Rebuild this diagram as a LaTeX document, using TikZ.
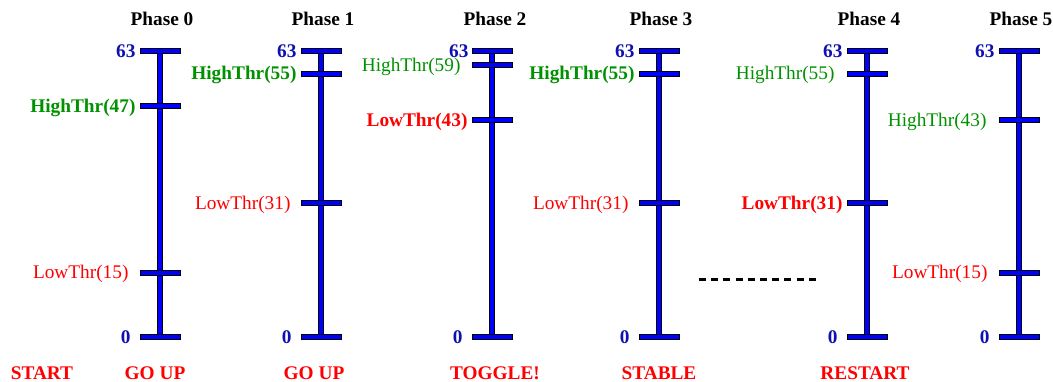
\documentclass[tikz,border=0pt]{standalone}
\usepackage{fontspec}
\setmainfont{Liberation Serif}
\definecolor{numblue}{RGB}{16,16,176}
\definecolor{thrgreen}{RGB}{0,145,0}
\definecolor{thrred}{RGB}{255,0,0}
\definecolor{barblue}{RGB}{0,0,255}
\tikzset{
  vbar/.style={double=barblue, double distance=4.6pt, line width=0.7pt, draw=black},
  tick/.style={rectangle, draw=black, fill=barblue, line width=0.7pt, minimum width=40pt, minimum height=5pt, inner sep=0pt},
  lbl/.style={inner sep=0pt, font=\fontsize{19.3}{23}\selectfont},
  endnum/.style={lbl, text=numblue, font=\fontsize{19.3}{23}\selectfont\bfseries, anchor=base east},
  hib/.style={lbl, text=thrgreen, font=\fontsize{19.3}{23}\selectfont\bfseries, anchor=base east},
  hir/.style={lbl, text=thrgreen, anchor=base east},
  lob/.style={lbl, text=thrred, font=\fontsize{19.3}{23}\selectfont\bfseries, anchor=base east},
  lor/.style={lbl, text=thrred, anchor=base east},
  title/.style={lbl, text=black, font=\fontsize{19.3}{23}\selectfont\bfseries, anchor=base},
  state/.style={lbl, text=thrred, font=\fontsize{19.3}{23}\selectfont\bfseries, anchor=base},
  gapline/.style={line width=3pt, dash pattern=on 7pt off 5.2pt},
}
\begin{document}
\begin{tikzpicture}[x=1pt,y=-1pt]
\useasboundingbox (0,0) rectangle (1053,381);
% ---------- Phase 0 ----------
\coordinate (a0t) at (160,51); \coordinate (a0b) at (160,337);
\draw[vbar] (a0t) -- (a0b);
\node[tick] (a0-63) at (a0t) {};
\node[tick] (a0-47) at (160,106) {};
\node[tick] (a0-15) at (160,272.5) {};
\node[tick] (a0-0) at (a0b) {};
\node[endnum] (l0-63) at ([xshift=-4pt,yshift=-6.3pt]a0-63.west) {63};
\node[hib] (l0-47) at ([xshift=-4pt,yshift=-6.3pt]a0-47.west) {HighThr(47)};
\node[lor] (l0-15) at ([xshift=-11pt,yshift=-6.3pt]a0-15.west) {LowThr(15)};
\node[endnum] (l0-0) at ([xshift=-9pt,yshift=-6.3pt]a0-0.west) {0};
\node[title] (t0) at (162,25) {Phase 0};
% ---------- Phase 1 ----------
\coordinate (a1t) at (321,51); \coordinate (a1b) at (321,337);
\draw[vbar] (a1t) -- (a1b);
\node[tick] (a1-63) at (a1t) {};
\node[tick] (a1-55) at (321,73.5) {};
\node[tick] (a1-31) at (321,203) {};
\node[tick] (a1-0) at (a1b) {};
\node[endnum] (l1-63) at ([xshift=-4pt,yshift=-6.3pt]a1-63.west) {63};
\node[hib] (l1-55) at ([xshift=-4pt,yshift=-6.3pt]a1-55.west) {HighThr(55)};
\node[lor] (l1-31) at ([xshift=-10pt,yshift=-6.3pt]a1-31.west) {LowThr(31)};
\node[endnum] (l1-0) at ([xshift=-9pt,yshift=-6.3pt]a1-0.west) {0};
\node[title] (t1) at (323,25) {Phase 1};
% ---------- Phase 2 ----------
\coordinate (a2t) at (492,51); \coordinate (a2b) at (492,337);
\draw[vbar] (a2t) -- (a2b);
\node[tick] (a2-63) at (a2t) {};
\node[tick] (a2-59) at (492,64.5) {};
\node[tick] (a2-43) at (492,120) {};
\node[tick] (a2-0) at (a2b) {};
\node[endnum] (l2-63) at ([xshift=-3pt,yshift=-6.6pt]a2-63.west) {63};
\node[hir] (l2-59) at ([xshift=-11pt,yshift=-6.8pt]a2-59.west) {HighThr(59)};
\node[lob] (l2-43) at ([xshift=-4pt,yshift=-6.3pt]a2-43.west) {LowThr(43)};
\node[endnum] (l2-0) at ([xshift=-9pt,yshift=-6.3pt]a2-0.west) {0};
\node[title] (t2) at (495,25) {Phase 2};
% ---------- Phase 3 ----------
\coordinate (a3t) at (659,51); \coordinate (a3b) at (659,337);
\draw[vbar] (a3t) -- (a3b);
\node[tick] (a3-63) at (a3t) {};
\node[tick] (a3-55) at (659,73.5) {};
\node[tick] (a3-31) at (659,203) {};
\node[tick] (a3-0) at (a3b) {};
\node[endnum] (l3-63) at ([xshift=-4pt,yshift=-6.3pt]a3-63.west) {63};
\node[hib] (l3-55) at ([xshift=-4pt,yshift=-6.3pt]a3-55.west) {HighThr(55)};
\node[lor] (l3-31) at ([xshift=-10pt,yshift=-6.3pt]a3-31.west) {LowThr(31)};
\node[endnum] (l3-0) at ([xshift=-9pt,yshift=-6.3pt]a3-0.west) {0};
\node[title] (t3) at (661,25) {Phase 3};
% ---------- dashed gap ----------
\coordinate (d1) at (699,279); \coordinate (d2) at (816,279);
\draw[gapline] (d1) -- (d2);
% ---------- Phase 4 ----------
\coordinate (a4t) at (867,51); \coordinate (a4b) at (867,337);
\draw[vbar] (a4t) -- (a4b);
\node[tick] (a4-63) at (a4t) {};
\node[tick] (a4-55) at (867,73.5) {};
\node[tick] (a4-31) at (867,203) {};
\node[tick] (a4-0) at (a4b) {};
\node[endnum] (l4-63) at ([xshift=-4pt,yshift=-6.3pt]a4-63.west) {63};
\node[hir] (l4-55) at ([xshift=-12pt,yshift=-6.3pt]a4-55.west) {HighThr(55)};
\node[lob] (l4-31) at ([xshift=-4pt,yshift=-6.3pt]a4-31.west) {LowThr(31)};
\node[endnum] (l4-0) at ([xshift=-9pt,yshift=-6.3pt]a4-0.west) {0};
\node[title] (t4) at (869,25) {Phase 4};
% ---------- Phase 5 ----------
\coordinate (a5t) at (1019,51); \coordinate (a5b) at (1019,337);
\draw[vbar] (a5t) -- (a5b);
\node[tick] (a5-63) at (a5t) {};
\node[tick] (a5-43) at (1019,120) {};
\node[tick] (a5-15) at (1019,272.5) {};
\node[tick] (a5-0) at (a5b) {};
\node[endnum] (l5-63) at ([xshift=-4pt,yshift=-6.3pt]a5-63.west) {63};
\node[hir] (l5-43) at ([xshift=-12pt,yshift=-6.3pt]a5-43.west) {HighThr(43)};
\node[lor] (l5-15) at ([xshift=-11pt,yshift=-6.3pt]a5-15.west) {LowThr(15)};
\node[endnum] (l5-0) at ([xshift=-9pt,yshift=-6.3pt]a5-0.west) {0};
\node[title] (t5) at (1021,25) {Phase 5};
% ---------- states ----------
\node[state] (s0) at (42,379.5) {START};
\node[state] (s1) at (155,379.5) {GO UP};
\node[state] (s2) at (314,379.5) {GO UP};
\node[state] (s3) at (495,379.5) {TOGGLE!};
\node[state] (s4) at (659,379.5) {STABLE};
\node[state] (s5) at (865,379.5) {RESTART};
\end{tikzpicture}
\end{document}
